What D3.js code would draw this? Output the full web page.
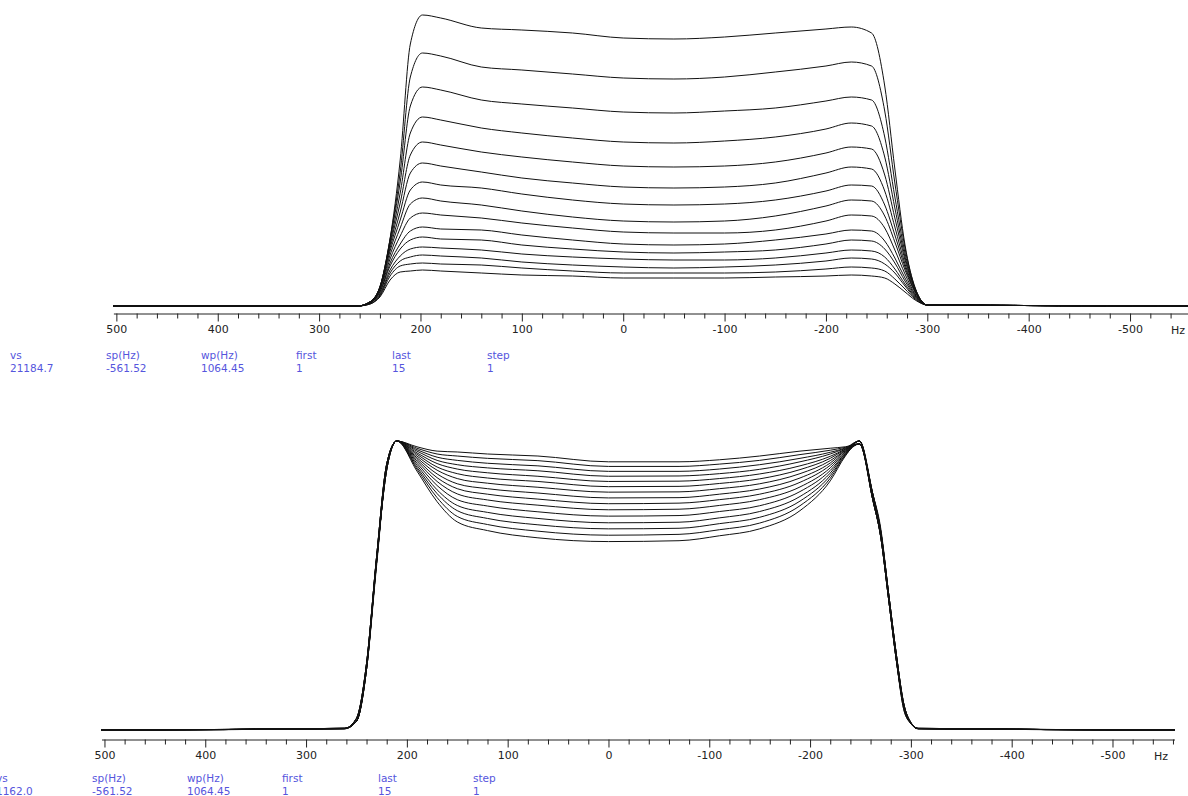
<!DOCTYPE html>
<html>
<head>
<meta charset="utf-8">
<script src="https://cdn.jsdelivr.net/npm/d3@7"></script>
<style>
  body { margin: 0; background: #fff; }
  svg { display: block; }
</style>
</head>
<body>
<script>
// frequency grid (Hz) of the stacked spectra, top panel
const hzTop = [503, 262, 250, 240, 230, 220, 210, 198, 180, 140, 100, 50, 0, -50, -100, -150, -200, -225, -245, -258, -268, -278, -288, -300, -562];

// 15 spectra, top panel (arbitrary intensity)
const topSpectra = [
  [0, 0, 4, 17, 67, 146, 262, 291, 288, 278, 276, 273, 268, 267, 269, 273, 277, 279, 273, 220, 137, 61, 18, 1, 0],
  [0, 0, 4, 19, 67, 134, 229, 253, 250, 239, 236, 232, 228, 227, 229, 234, 240, 244, 240, 195, 123, 58, 18, 1, 0],
  [0, 0, 4, 19, 66, 124, 200, 219, 216, 206, 202, 198, 194, 193, 195, 198, 205, 209, 206, 169, 109, 53, 17, 1, 0],
  [0, 0, 4, 19, 63, 113, 173, 189, 186, 178, 173, 168, 164, 163, 165, 169, 177, 183, 180, 149, 98, 49, 17, 1, 0],
  [0, 0, 4, 19, 61, 103, 151, 164, 161, 154, 149, 144, 140, 139, 140, 144, 153, 159, 157, 131, 88, 46, 16, 1, 0],
  [0, 0, 4, 18, 58, 94, 133, 143, 140, 134, 128, 123, 119, 118, 119, 123, 133, 139, 137, 115, 79, 42, 15, 1, 0],
  [0, 0, 3, 18, 55, 86, 116, 124, 121, 118, 112, 106, 102, 101, 102, 106, 115, 121, 120, 101, 71, 39, 14, 1, 0],
  [0, 0, 3, 17, 51, 78, 102, 108, 105, 101, 95, 89, 85, 84, 85, 90, 100, 106, 105, 90, 64, 36, 14, 1, 0],
  [0, 0, 3, 16, 47, 70, 88, 93, 91, 88, 83, 78, 74, 73, 73, 76, 85, 91, 90, 78, 56, 32, 12, 1, 0],
  [0, 0, 3, 14, 43, 62, 75, 79, 77, 76, 71, 66, 62, 61, 62, 66, 72, 76, 75, 65, 48, 28, 11, 1, 0],
  [0, 0, 3, 14, 40, 57, 66, 69, 67, 66, 61, 57, 54, 53, 54, 56, 62, 66, 65, 57, 43, 25, 10, 1, 0],
  [0, 0, 3, 12, 36, 50, 57, 59, 58, 56, 52, 49, 47, 46, 46, 48, 53, 56, 55, 49, 37, 22, 9, 1, 0],
  [0, 0, 2, 11, 33, 45, 49, 51, 50, 48, 44, 41, 39, 38, 39, 41, 45, 48, 47, 42, 33, 20, 8, 1, 0],
  [0, 0, 2, 10, 30, 40, 42, 43, 42, 41, 38, 35, 33, 33, 33, 34, 37, 39, 38, 35, 27, 17, 7, 1, 0],
  [0, 0, 2, 9, 26, 34, 35, 36, 35, 33, 31, 30, 28, 28, 28, 29, 30, 31, 30, 28, 22, 14, 6, 1, 0]
];

// frequency grid of the normalized spectra, bottom panel
const hzBottom = [503, 262, 250, 240, 230, 220, 210, 190, 170, 150, 120, 70, 0, -70, -110, -150, -190, -220, -235, -249, -262, -270, -278, -286, -293, -300, -307, -562];

// 15 spectra normalized to the left horn (percent)
const bottomSpectra = [
  [0, 0.5, 3, 22, 59, 91, 100, 98.0, 96.5, 96.2, 95.5, 94.8, 92.8, 92.8, 93.5, 94.8, 96.5, 97.5, 98.0, 99, 81, 68, 46, 24, 8, 2.4, 0.5, 0],
  [0, 0.6, 3, 21, 58, 91, 100, 97.5, 95.5, 94.8, 94.0, 93.2, 91.2, 91.2, 92.0, 93.3, 95.3, 96.8, 97.8, 99, 82, 69, 47, 25, 8, 2.4, 0.5, 0],
  [0, 0.5, 4, 23, 60, 92, 100, 97.0, 94.4, 93.3, 92.3, 91.4, 89.5, 89.5, 90.3, 91.8, 94.0, 96.1, 97.6, 100, 80, 67, 45, 23, 8, 2.2, 0.6, 0],
  [0, 0.4, 3, 22, 59, 90, 100, 96.5, 93.3, 91.8, 90.7, 89.7, 87.8, 87.9, 88.7, 90.2, 92.8, 95.5, 97.4, 99, 81, 69, 47, 24, 9, 2.6, 0.5, 0],
  [0, 0.6, 3, 21, 57, 91, 100, 95.9, 92.2, 90.3, 89.0, 87.8, 86.0, 86.1, 87.0, 88.6, 91.4, 94.7, 97.2, 100, 82, 68, 46, 25, 8, 2.4, 0.4, 0],
  [0, 0.5, 4, 23, 60, 92, 100, 95.4, 91.0, 88.7, 87.2, 86.0, 84.2, 84.3, 85.3, 86.9, 90.1, 94.0, 97.0, 99, 80, 67, 45, 23, 7, 2.2, 0.5, 0],
  [0, 0.5, 3, 22, 58, 91, 100, 94.8, 89.9, 87.0, 85.4, 84.0, 82.3, 82.4, 83.5, 85.2, 88.7, 93.2, 96.8, 100, 81, 68, 46, 24, 8, 2.4, 0.5, 0],
  [0, 0.6, 3, 21, 59, 90, 100, 94.2, 88.6, 85.2, 83.5, 82.0, 80.3, 80.4, 81.6, 83.4, 87.2, 92.4, 96.6, 99, 82, 70, 47, 25, 9, 2.6, 0.6, 0],
  [0, 0.4, 4, 23, 60, 92, 100, 93.6, 87.3, 83.5, 81.6, 79.9, 78.3, 78.5, 79.7, 81.6, 85.7, 91.6, 96.3, 100, 80, 67, 45, 23, 8, 2.3, 0.5, 0],
  [0, 0.5, 3, 22, 58, 91, 100, 93.0, 86.0, 81.7, 79.6, 77.8, 76.2, 76.4, 77.7, 79.7, 84.1, 90.7, 96.1, 99, 81, 68, 46, 24, 8, 2.4, 0.5, 0],
  [0, 0.6, 3, 21, 59, 90, 100, 92.3, 84.6, 79.7, 77.5, 75.5, 74.0, 74.2, 75.6, 77.6, 82.5, 89.8, 95.8, 100, 82, 69, 47, 25, 9, 2.5, 0.5, 0],
  [0, 0.5, 4, 23, 60, 92, 100, 91.6, 83.1, 77.7, 75.3, 73.2, 71.7, 71.9, 73.4, 75.6, 80.8, 88.9, 95.6, 99, 80, 67, 45, 23, 7, 2.2, 0.4, 0],
  [0, 0.5, 3, 22, 58, 91, 100, 90.9, 81.8, 75.9, 73.2, 71.0, 69.6, 69.8, 71.4, 73.6, 79.2, 88.0, 95.3, 100, 81, 68, 46, 24, 8, 2.4, 0.5, 0],
  [0, 0.6, 3, 21, 59, 90, 100, 90.3, 80.4, 73.9, 71.1, 68.8, 67.4, 67.7, 69.3, 71.6, 77.6, 87.1, 95.1, 99, 82, 69, 47, 25, 9, 2.6, 0.6, 0],
  [0, 0.5, 4, 23, 60, 92, 100, 89.6, 79.0, 72.0, 69.0, 66.5, 65.2, 65.5, 67.2, 69.6, 75.9, 86.2, 94.8, 100, 80, 67, 45, 23, 8, 2.3, 0.5, 0]
];

// axis labels and processing parameters
const majorTicks = [500, 400, 300, 200, 100, 0, -100, -200, -300, -400, -500];
const paramNames = ["vs", "sp(Hz)", "wp(Hz)", "first", "last", "step"];
const paramsTop = ["21184.7", "-561.52", "1064.45", "1", "15", "1"];
const paramsBottom = ["1162.0", "-561.52", "1064.45", "1", "15", "1"];

const W = 1188, H = 796;
const font = "'DejaVu Sans', Verdana, sans-serif";

const svg = d3.select("body").append("svg")
    .attr("width", W)
    .attr("height", H);

const minorTicks = d3.range(500, -561, -20).filter(d => d % 100 !== 0);

function drawPanel(cfg) {
    const x = d3.scaleLinear().domain([502.93, -561.52]).range(cfg.xRange);
    const y = d3.scaleLinear().domain(cfg.yDomain).range(cfg.yRange);

    const line = d3.line()
        .x((d, i) => x(cfg.hz[i]))
        .y(d => y(d))
        .curve(d3.curveMonotoneX);

    svg.append("g")
        .selectAll("path")
        .data(cfg.spectra)
        .enter().append("path")
        .attr("d", line)
        .attr("fill", "none")
        .attr("stroke", "#111")
        .attr("stroke-width", 1);

    // minor ticks
    svg.append("g")
        .attr("transform", `translate(0,${cfg.axisY})`)
        .call(d3.axisBottom(x).tickValues(minorTicks).tickSize(5).tickSizeOuter(0).tickFormat(""))
        .call(g => g.select(".domain").remove())
        .selectAll("line").attr("stroke", "#222");

    // major ticks and labels
    const ax = svg.append("g")
        .attr("transform", `translate(0,${cfg.axisY})`)
        .call(d3.axisBottom(x).tickValues(majorTicks).tickSize(8).tickSizeOuter(0)
            .tickPadding(4).tickFormat(d => String(d)));
    ax.select(".domain").attr("stroke", "#222");
    ax.selectAll("line").attr("stroke", "#222");
    ax.selectAll("text")
        .attr("font-family", font)
        .attr("font-size", "11px")
        .attr("fill", "#222");

    svg.append("text")
        .attr("x", cfg.hzLabelX)
        .attr("y", cfg.axisY + 20)
        .attr("text-anchor", "middle")
        .attr("font-family", font)
        .attr("font-size", "11px")
        .attr("fill", "#222")
        .text("Hz");

    // parameter block under the axis
    const px = [0, 96, 191, 286, 382, 477];
    const pg = svg.append("g")
        .attr("font-family", font)
        .attr("font-size", "10.5px")
        .attr("fill", "#5555dd");
    pg.selectAll(".pname")
        .data(paramNames)
        .enter().append("text")
        .attr("class", "pname")
        .attr("x", (d, i) => cfg.paramX + px[i])
        .attr("y", cfg.paramY)
        .text(d => d);
    pg.selectAll(".pval")
        .data(cfg.params)
        .enter().append("text")
        .attr("class", "pval")
        .attr("x", (d, i) => cfg.paramX + px[i])
        .attr("y", cfg.paramY + 13)
        .text(d => d);
}

drawPanel({
    hz: hzTop, spectra: topSpectra,
    xRange: [113.4, 1192.4], yDomain: [0, 291], yRange: [306, 15],
    axisY: 313.5, hzLabelX: 1178,
    paramX: 10, paramY: 359, params: paramsTop
});

drawPanel({
    hz: hzBottom, spectra: bottomSpectra,
    xRange: [101.5, 1174.5], yDomain: [0, 100], yRange: [730, 441],
    axisY: 739.5, hzLabelX: 1161,
    paramX: -4, paramY: 782, params: paramsBottom
});
</script>
</body>
</html>
